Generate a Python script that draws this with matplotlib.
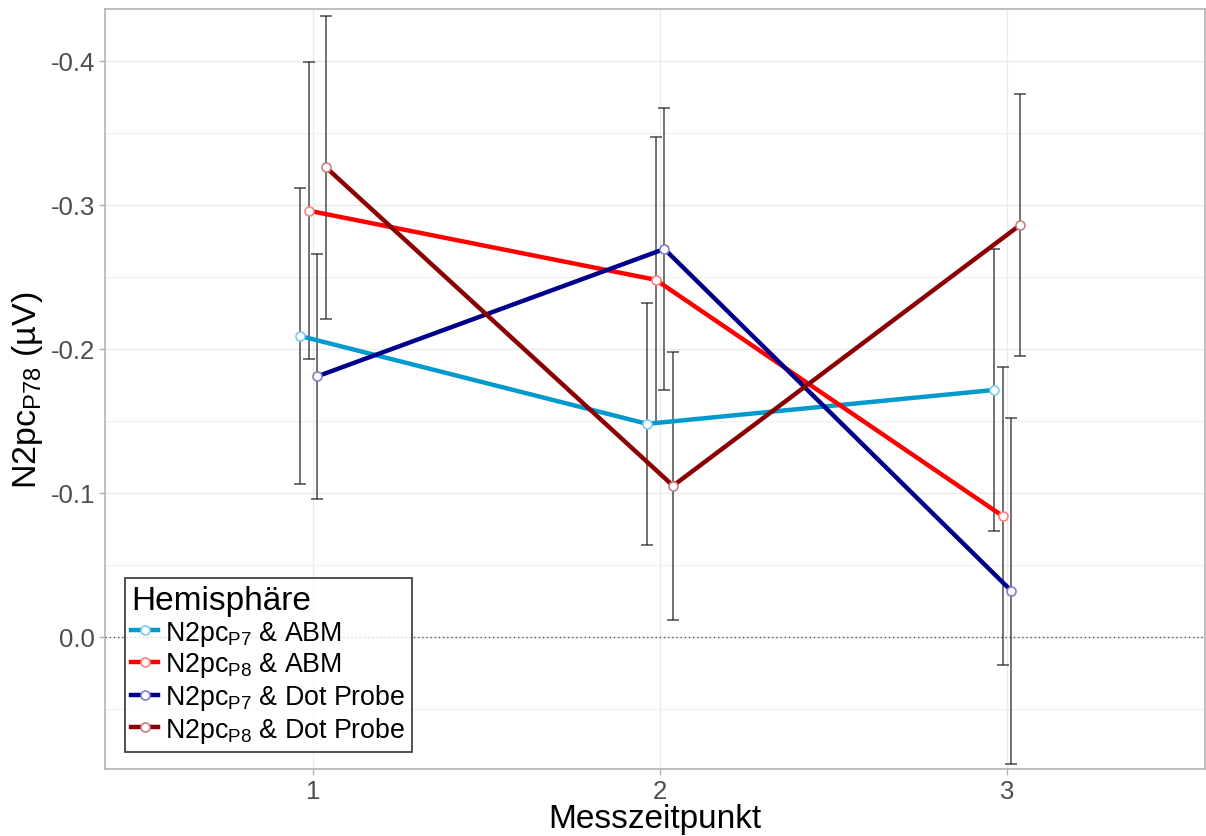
import matplotlib
matplotlib.use('Agg')
import matplotlib.pyplot as plt
from matplotlib.ticker import MultipleLocator
import numpy as np

plt.rcParams['font.family'] = ['Liberation Sans', 'DejaVu Sans']
plt.rcParams['mathtext.fontset'] = 'custom'
plt.rcParams['mathtext.rm'] = 'Liberation Sans'

# Messzeitpunkte und Mittelwerte je Bedingung (µV), mit Fehlerbalken
zeitpunkte = [1, 2, 3]
labels = [r'N2pc$_{\mathregular{P7}}$ & ABM',
          r'N2pc$_{\mathregular{P8}}$ & ABM',
          r'N2pc$_{\mathregular{P7}}$ & Dot Probe',
          r'N2pc$_{\mathregular{P8}}$ & Dot Probe']
p7_abm = [-0.209, -0.148, -0.1715]
p8_abm = [-0.296, -0.248, -0.084]
p7_dot = [-0.181, -0.2694, -0.032]
p8_dot = [-0.326, -0.105, -0.286]
err_p7_abm = [0.103, 0.084, 0.098]
err_p8_abm = [0.103, 0.099, 0.1035]
err_p7_dot = [0.085, 0.098, 0.12]
err_p8_dot = [0.105, 0.093, 0.091]

farben = ['#009ACD', '#FF0000', '#00008B', '#8B0000']
randfarben = ['#7FCCE6', '#FF8080', '#8080C5', '#C58080']

serien = [p7_abm, p8_abm, p7_dot, p8_dot]
fehler = [err_p7_abm, err_p8_abm, err_p7_dot, err_p8_dot]
versatz = [-0.0375, -0.0125, 0.0125, 0.0375]

fig = plt.figure(figsize=(12.06, 8.37), dpi=100)
ax = fig.add_axes([0.087, 0.080, 0.912, 0.908])

for werte, err, dx in zip(serien, fehler, versatz):
    x = np.array(zeitpunkte) + dx
    ax.errorbar(x, werte, yerr=err, fmt='none', ecolor='#222222', elinewidth=1.2,
                capsize=4, capthick=1.2, alpha=0.75, zorder=2)

for werte, dx, farbe, rand, lab in zip(serien, versatz, farben, randfarben, labels):
    x = np.array(zeitpunkte) + dx
    ax.plot(x, werte, color=farbe, lw=3.2, marker='o', markersize=6.5,
            markerfacecolor='white', markeredgecolor=rand, markeredgewidth=1.2,
            label=lab, zorder=3)

ax.axhline(0, color='#555555', lw=1, ls=(0, (1, 2)), zorder=1)

ax.set_xlim(0.4, 3.57)
ax.set_ylim(0.0917, -0.436)
ax.set_xticks(zeitpunkte)
ax.yaxis.set_major_locator(MultipleLocator(0.1))
ax.yaxis.set_minor_locator(MultipleLocator(0.05))
ax.set_yticks([-0.4, -0.3, -0.2, -0.1, 0.0])
ax.set_yticklabels(['-0.4', '-0.3', '-0.2', '-0.1', '0.0'])

ax.grid(which='major', color='#EBEBEB', lw=1)
ax.grid(which='minor', axis='y', color='#F2F2F2', lw=1)
ax.set_axisbelow(True)
ax.tick_params(axis='both', which='major', colors='#B3B3B3', labelcolor='#4D4D4D',
               labelsize=18.5, length=4, width=1, pad=3)
ax.tick_params(axis='y', which='minor', length=0)
for sp in ax.spines.values():
    sp.set_color('#B3B3B3')
    sp.set_linewidth(1.2)

ax.set_xlabel('Messzeitpunkt', fontsize=24, labelpad=0)
ax.set_ylabel(r'N2pc$_{\mathregular{P78}}$ (µV)', fontsize=24.5, labelpad=4)

leg = ax.legend(loc='lower left', bbox_to_anchor=(0.013, 0.016), title='Hemisphäre',
                fontsize=19.3, title_fontsize=24, frameon=True, fancybox=False,
                handlelength=1.0, handletextpad=0.25, labelspacing=0.1,
                borderpad=0.25, borderaxespad=0.2, alignment='left')
leg.get_frame().set_edgecolor('black')
leg.get_frame().set_linewidth(1.2)

fig.savefig('out.png', dpi=100)
